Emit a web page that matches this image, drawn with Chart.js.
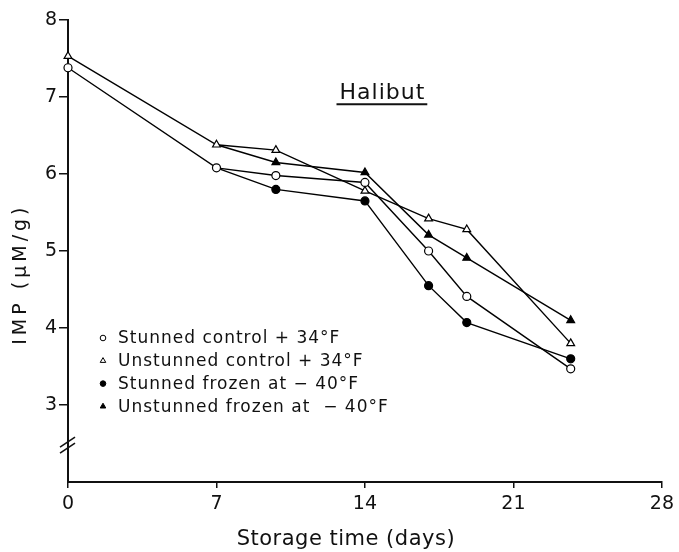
<!DOCTYPE html>
<html>
<head>
<meta charset="utf-8">
<script src="https://cdn.jsdelivr.net/npm/chart.js@4/dist/chart.umd.min.js"></script>
<style>
  body { margin: 0; background: #fff; }
  canvas { display: block; }
</style>
</head>
<body>
<canvas id="chart" width="679" height="552"></canvas>
<script>
"use strict";

// 1: data
let _days = [0, 7, 9.8, 14, 17, 18.8, 23.7];
let _stunnedControl = [7.38, 6.08, 5.98, 5.89, 5.00, 4.41, 3.47];
let _unstunnedControl = [7.53, 6.38, 6.31, 5.78, 5.42, 5.28, 3.80];
// frozen series branch off the control curves at day 7
let _stunnedFrozen = [null, 6.08, 5.80, 5.65, 4.55, 4.07, 3.60];
let _unstunnedFrozen = [null, 6.38, 6.15, 6.02, 5.21, 4.91, 4.10];

let _labels = [
  "Stunned control + 34°F",
  "Unstunned control + 34°F",
  "Stunned frozen at − 40°F",
  "Unstunned frozen at  − 40°F"
];
let _xTicks = [0, 7, 14, 21, 28];
let _yTicks = [3, 4, 5, 6, 7, 8];

const FONT = "'DejaVu Sans', sans-serif";

// 2: turn a value list into {x, y} points, skipping missing days
function toPoints(values) {
  let points = [];
  for (let i = 0; i < _days.length; i++) {
    if (values[i] !== null) points.push({ x: _days[i], y: values[i] });
  }
  return points;
}

function makeDataset(label, values, style, filled, hideFirst) {
  let points = toPoints(values);
  let radius = style === "circle" ? 4 : 4.5;
  return {
    label: label,
    data: points,
    clip: false,
    borderColor: "#000",
    borderWidth: 1.4,
    tension: 0,
    fill: false,
    pointStyle: style,
    pointRadius: points.map((p, i) => (hideFirst && i === 0 ? 0 : radius)),
    pointBackgroundColor: filled ? "#000" : "#fff",
    pointBorderColor: "#000",
    pointBorderWidth: 1.2,
    _filled: filled
  };
}

// extra drawing: title, y title, x title, legend, axis break
const decorations = {
  id: "decorations",
  afterDraw(chart) {
    const ctx = chart.ctx;
    const area = chart.chartArea;
    const xs = chart.scales.x;
    const ys = chart.scales.y;
    ctx.save();
    ctx.fillStyle = "#111";
    ctx.strokeStyle = "#111";

    // "Halibut" with underline
    ctx.font = "22px " + FONT;
    ctx.letterSpacing = "1px";
    ctx.textAlign = "left";
    ctx.textBaseline = "alphabetic";
    let hx = xs.getPixelForValue(12.8);
    let hy = ys.getPixelForValue(6.97);
    ctx.fillText("Halibut", hx, hy);
    let hw = ctx.measureText("Halibut").width;
    ctx.lineWidth = 2;
    ctx.beginPath();
    ctx.moveTo(hx - 3, hy + 5);
    ctx.lineTo(hx + hw + 2, hy + 5);
    ctx.stroke();

    // y axis title
    ctx.save();
    ctx.font = "19px " + FONT;
    ctx.letterSpacing = "4px";
    ctx.textAlign = "center";
    ctx.textBaseline = "middle";
    ctx.translate(21, ys.getPixelForValue(4.7));
    ctx.rotate(-Math.PI / 2);
    ctx.fillText("IMP (μM/g)", 0, 0);
    ctx.restore();

    // x axis title
    ctx.font = "21px " + FONT;
    ctx.letterSpacing = "0.5px";
    ctx.textAlign = "center";
    ctx.textBaseline = "middle";
    ctx.fillText("Storage time (days)", xs.getPixelForValue(13.1), 540);

    // legend inside the plot
    ctx.font = "17px " + FONT;
    ctx.letterSpacing = "1px";
    ctx.textAlign = "left";
    chart.data.datasets.forEach((ds, i) => {
      let y = 338 + i * 22.8;
      let x = area.left + 35;
      ctx.fillStyle = ds._filled ? "#000" : "#fff";
      ctx.strokeStyle = "#000";
      ctx.lineWidth = 1;
      Chart.helpers.drawPoint(ctx, {
        pointStyle: ds.pointStyle,
        radius: ds.pointStyle === "circle" ? 2.8 : 3.2,
        rotation: 0,
        borderWidth: 1
      }, x, y);
      ctx.fillStyle = "#111";
      ctx.fillText(ds.label, x + 15, y + 1);
    });

    // axis break marks
    let bx = area.left;
    let by = ys.getPixelForValue(2.48);
    ctx.strokeStyle = "#111";
    ctx.lineWidth = 1.5;
    for (const off of [-3, 3]) {
      ctx.beginPath();
      ctx.moveTo(bx - 8, by + off + 5);
      ctx.lineTo(bx + 7, by + off - 5);
      ctx.stroke();
    }
    ctx.restore();
  }
};

// 3: create the chart
function appendChart() {
  let chartContainer = document.getElementById("chart");
  return new Chart(chartContainer, {
    type: "line",
    data: {
      datasets: [
        makeDataset(_labels[0], _stunnedControl, "circle", false, false),
        makeDataset(_labels[1], _unstunnedControl, "triangle", false, false),
        makeDataset(_labels[2], _stunnedFrozen, "circle", true, true),
        makeDataset(_labels[3], _unstunnedFrozen, "triangle", true, true)
      ]
    },
    options: {
      responsive: false,
      animation: false,
      layout: { padding: { left: 28, right: 13, top: 20, bottom: 0 } },
      plugins: {
        legend: { display: false },
        tooltip: { enabled: false }
      },
      scales: {
        x: {
          type: "linear",
          min: 0,
          max: 28,
          afterFit: (scale) => { scale.height = 70; },
          afterBuildTicks: (scale) => { scale.ticks = _xTicks.map(v => ({ value: v })); },
          grid: { drawOnChartArea: false, tickLength: 6, color: "#111", lineWidth: 1.5 },
          border: { color: "#111", width: 2 },
          ticks: { color: "#111", padding: 5, font: { family: FONT, size: 19 } }
        },
        y: {
          type: "linear",
          min: 2,
          max: 8,
          afterFit: (scale) => { scale.width = 40; },
          afterBuildTicks: (scale) => { scale.ticks = _yTicks.map(v => ({ value: v })); },
          grid: { drawOnChartArea: false, tickLength: 9, color: "#111", lineWidth: 1.5 },
          border: { color: "#111", width: 2 },
          ticks: { color: "#111", padding: 2, font: { family: FONT, size: 19 } }
        }
      }
    },
    plugins: [decorations]
  });
}

appendChart();
</script>
</body>
</html>
